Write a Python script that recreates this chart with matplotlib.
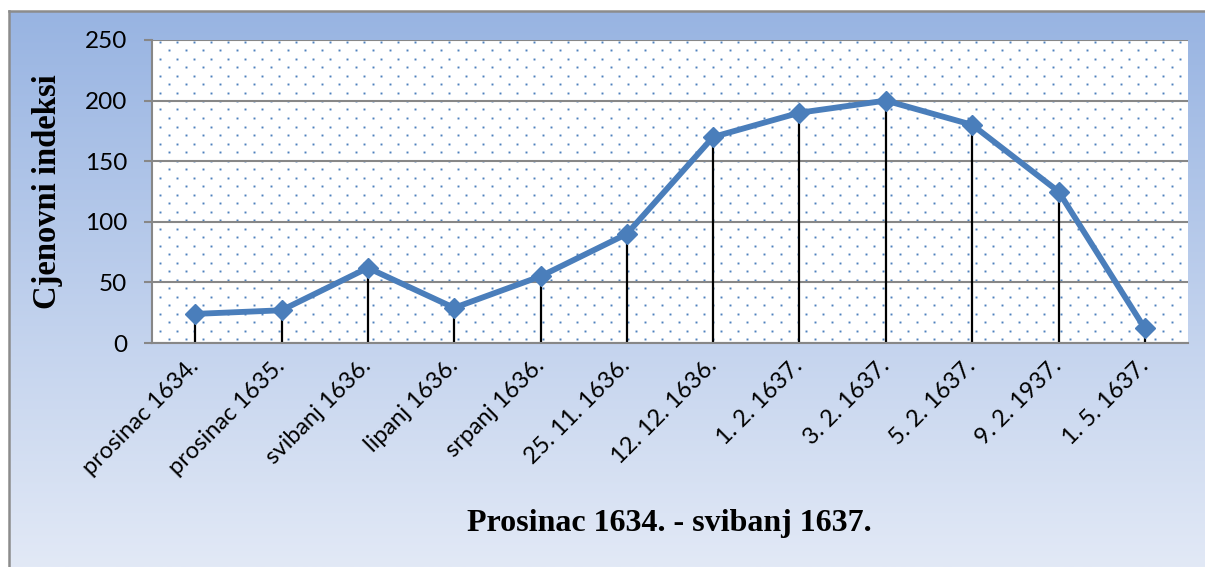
import numpy as np
import matplotlib
matplotlib.use("Agg")
import matplotlib.pyplot as plt
import matplotlib.transforms as mtransforms
from matplotlib.lines import Line2D

# data
labels = ["prosinac 1634.", "prosinac 1635.", "svibanj 1636.", "lipanj 1636.",
          "srpanj 1636.", "25. 11. 1636.", "12. 12. 1636.", "1. 2. 1637.",
          "3. 2. 1637.", "5. 2. 1637.", "9. 2. 1937.", "1. 5. 1637."]
values = [24, 27, 62, 29, 55, 90, 170, 190, 200, 180, 125, 12]
y_ticks = [0, 50, 100, 150, 200, 250]

W, H = 1205, 567
fig = plt.figure(figsize=(W / 100, H / 100), dpi=100)
fig.patch.set_facecolor("white")

# gradient background inside the chart frame
bg = fig.add_axes([9 / W, 0, 1 - 9 / W, 1 - 11 / H], zorder=-5)
top = np.array([152, 180, 226]) / 255
bot = np.array([226, 233, 246]) / 255
t = np.linspace(0, 1, 256)[:, None]
grad = (top * (1 - t) + bot * t)[:, None, :]
bg.imshow(grad, aspect="auto", extent=[0, 1, 0, 1])
bg.axis("off")

# frame border (left and top only)
fig.add_artist(Line2D([8.5 / W, 8.5 / W], [0, 1 - 10.5 / H], color="#8c8c8c", lw=1.8))
fig.add_artist(Line2D([8.5 / W, 1], [1 - 10.5 / H, 1 - 10.5 / H], color="#8c8c8c", lw=1.8))

ax = fig.add_axes([152 / W, 1 - 343 / H, (1188 - 152) / W, (343 - 40) / H])
ax.set_facecolor("white")

# dotted fill pattern of the plot area
pw, ph = 1188 - 152, 343 - 40
dx, dy = 17.0, 8.5
xs, ys = [], []
row = 0
yy = ph - 1.5
while yy > 0:
    off = 8.0 if row % 2 == 0 else 16.5
    xx = np.arange(off, pw, dx)
    xs.extend(xx / pw)
    ys.extend([yy / ph] * len(xx))
    yy -= dy
    row += 1
ax.plot(xs, ys, ls="", marker="s", ms=1.4, mew=0, color="#4f81bd",
        transform=ax.transAxes, zorder=0)

x = np.arange(len(labels))
ax.set_xlim(-0.5, len(labels) - 0.5)
ax.set_ylim(0, 250)
ax.set_yticks(y_ticks)
ax.yaxis.grid(True, color="#878787", lw=1.5)
ax.set_axisbelow(True)

ax.vlines(x, 0, values, color="black", lw=1.6, zorder=2)
ax.plot(x, values, color="#4a7ebb", lw=4.2, marker="D", ms=10.5, zorder=3)

for side in ["top", "right"]:
    ax.spines[side].set_visible(False)
for side in ["left", "bottom"]:
    ax.spines[side].set_color("#878787")
    ax.spines[side].set_linewidth(1.5)

ax.set_xticks(x)
ax.set_xticklabels(labels, rotation=45, ha="right", va="center",
                   rotation_mode="anchor", fontfamily="Lato", fontsize=17)
shift = mtransforms.ScaledTranslation(-4 / 100, -2 / 100, fig.dpi_scale_trans)
for lab in ax.get_xticklabels():
    lab.set_transform(lab.get_transform() + shift)
ax.tick_params(axis="x", length=0, pad=14)
ax.tick_params(axis="y", length=6, width=1.5, color="#878787", pad=12,
               labelsize=17.5)
for lab in ax.get_yticklabels():
    lab.set_fontfamily("Lato")

ax.set_ylabel("Cjenovni indeksi", fontfamily="Liberation Serif", fontweight="bold",
              fontsize=23.5)
ax.yaxis.set_label_coords((63 - 152) / pw, 0.5)
fig.text(669 / W, 1 - 524 / H, "Prosinac 1634. - svibanj 1637.",
         fontfamily="Liberation Serif", fontweight="bold", fontsize=23,
         ha="center", va="center")

fig.savefig("out.png", dpi=100)
